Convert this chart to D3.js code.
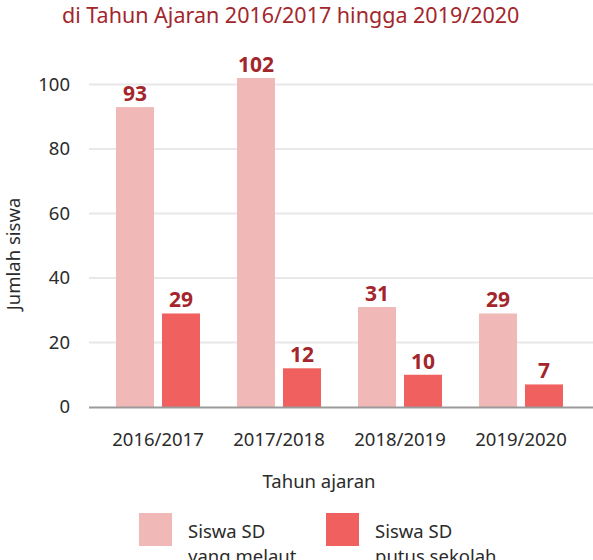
<!DOCTYPE html>
<html>
<head>
<meta charset="utf-8">
<script src="https://cdn.jsdelivr.net/npm/d3@7"></script>
<style>
  body { margin: 0; background: #fff; }
  svg { display: block; font-family: "Noto Sans", sans-serif; }
</style>
</head>
<body>
<script>
// data
var years = ["2016/2017", "2017/2018", "2018/2019", "2019/2020"];
var melaut = [93, 102, 31, 29];
var putus = [29, 12, 10, 7];
var seriesKeys = ["melaut", "putus"];
var seriesNames = [["Siswa SD", "yang melaut"], ["Siswa SD", "putus sekolah"]];
var yTicks = [0, 20, 40, 60, 80, 100];

var width = 593, height = 560;
var colors = { melaut: "#f0b9b8", putus: "#f0605e" };
var labelColor = "#a3262c";
var textColor = "#2b2b2b";

var rows = years.map(function(y, i) {
    return { year: y, melaut: melaut[i], putus: putus[i] };
});

var svg = d3.select("body").append("svg")
    .attr("width", width)
    .attr("height", height);

// titel (baris kedua, baris pertama terpotong)
svg.append("text")
    .attr("x", 62)
    .attr("y", 23)
    .attr("fill", labelColor)
    .attr("font-size", 21.5)
    .text("di Tahun Ajaran 2016/2017 hingga 2019/2020");

var x0 = d3.scaleBand()
    .domain(years)
    .range([97.5, 581.5])
    .paddingInner(0.306)
    .paddingOuter(0.153);

var x1 = d3.scaleBand()
    .domain(seriesKeys)
    .range([0, x0.bandwidth()])
    .paddingInner(0.174);

var y = d3.scaleLinear()
    .domain([0, 100])
    .range([407, 84.5]);

// grid
svg.append("g").selectAll("line")
    .data(yTicks.filter(function(d) { return d > 0; }))
    .join("line")
    .attr("x1", 89)
    .attr("x2", width)
    .attr("y1", function(d) { return y(d); })
    .attr("y2", function(d) { return y(d); })
    .attr("stroke", "#e8e8e8")
    .attr("stroke-width", 2);

// sumbu y
var yAxis = d3.axisLeft(y).tickValues(yTicks).tickSize(0).tickPadding(0);
var gy = svg.append("g")
    .attr("transform", "translate(70,0)")
    .call(yAxis);
gy.select(".domain").remove();
gy.selectAll("text")
    .attr("font-family", "Noto Sans")
    .attr("font-size", 18.5)
    .attr("fill", textColor);

// batang
var groups = svg.append("g").selectAll("g")
    .data(rows)
    .join("g")
    .attr("transform", function(d) { return "translate(" + x0(d.year) + ",0)"; });

groups.selectAll("rect")
    .data(function(d) { return seriesKeys.map(function(k) { return { key: k, value: d[k] }; }); })
    .join("rect")
    .attr("x", function(d) { return x1(d.key); })
    .attr("width", x1.bandwidth())
    .attr("y", function(d) { return y(d.value); })
    .attr("height", function(d) { return y(0) - y(d.value); })
    .attr("fill", function(d) { return colors[d.key]; });

groups.selectAll("text")
    .data(function(d) { return seriesKeys.map(function(k) { return { key: k, value: d[k] }; }); })
    .join("text")
    .attr("x", function(d) { return x1(d.key) + x1.bandwidth() / 2; })
    .attr("y", function(d) { return y(d.value) - 6; })
    .attr("text-anchor", "middle")
    .attr("font-size", 21)
    .attr("font-weight", "bold")
    .attr("fill", labelColor)
    .text(function(d) { return d.value; });

// sumbu x
var xAxis = d3.axisBottom(x0).tickSize(0).tickPadding(0);
var gx = svg.append("g")
    .attr("transform", "translate(0,407)")
    .call(xAxis);
gx.select(".domain").remove();
gx.selectAll("text")
    .attr("font-family", "Noto Sans")
    .attr("font-size", 18.5)
    .attr("fill", textColor)
    .attr("dy", null)
    .attr("y", 39);

svg.append("line")
    .attr("x1", 89)
    .attr("x2", width)
    .attr("y1", 407.5)
    .attr("y2", 407.5)
    .attr("stroke", "#9a9a9a")
    .attr("stroke-width", 2);

// judul sumbu
svg.append("text")
    .attr("x", 319)
    .attr("y", 488)
    .attr("text-anchor", "middle")
    .attr("font-size", 18.5)
    .attr("fill", textColor)
    .text("Tahun ajaran");

svg.append("text")
    .attr("transform", "translate(20,254) rotate(-90)")
    .attr("text-anchor", "middle")
    .attr("font-size", 18.5)
    .attr("fill", textColor)
    .text("Jumlah siswa");

// legenda
var legend = svg.append("g").selectAll("g")
    .data(seriesKeys)
    .join("g")
    .attr("transform", function(d, i) { return "translate(" + (139 + i * 187) + ",513)"; });

legend.append("rect")
    .attr("width", 33)
    .attr("height", 33)
    .attr("fill", function(d) { return colors[d]; });

legend.append("text")
    .attr("x", 49)
    .attr("y", 25)
    .attr("font-size", 18.5)
    .attr("fill", textColor)
    .selectAll("tspan")
    .data(function(d, i) { return seriesNames[i]; })
    .join("tspan")
    .attr("x", 49)
    .attr("dy", function(d, i) { return i === 0 ? 0 : 25; })
    .text(function(d) { return d; });
</script>
</body>
</html>
